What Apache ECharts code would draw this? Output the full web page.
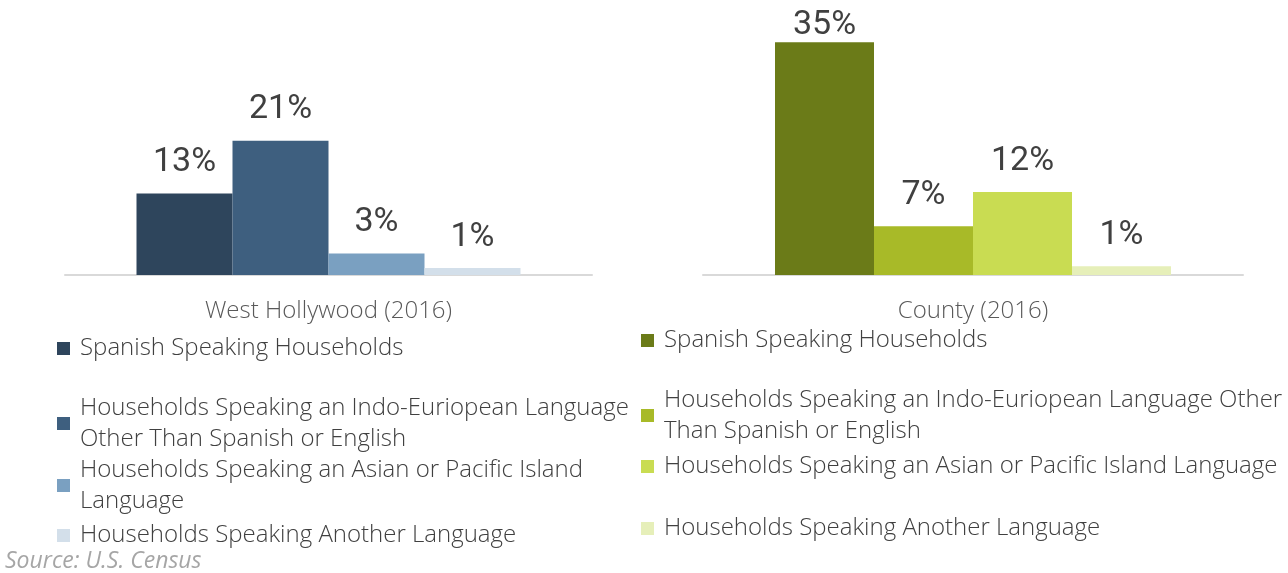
<!DOCTYPE html>
<html>
<head>
<meta charset="utf-8">
<script src="https://cdn.jsdelivr.net/npm/echarts@6/dist/echarts.min.js"></script>
<style>
  html, body { margin: 0; padding: 0; background: #fff; }
  .wrap { position: relative; width: 1288px; height: 573px; }
  #weho { position: absolute; left: 0; top: 0; width: 630px; height: 573px; }
  #county { position: absolute; left: 630px; top: 0; width: 658px; height: 573px; }
</style>
</head>
<body>
<div class="wrap">
  <div id="weho"></div>
  <div id="county"></div>
</div>
<script>
// legend names (typo kept as in source)
const langs = [
  'Spanish Speaking Households',
  'Households Speaking an Indo-Euriopean Language Other Than Spanish or English',
  'Households Speaking an Asian or Pacific Island Language',
  'Households Speaking Another Language'
];
const wehoCat = ['West Hollywood (2016)'];
const countyCat = ['County (2016)'];
// share of households, %
const weho = [12.8, 21.1, 3.4, 1.1];
const county = [34.8, 7.3, 12.4, 1.3];

const wehoColors = ['#2e455c', '#3e5f7f', '#7aa0c1', '#d3dfea'];
const countyColors = ['#6b7b18', '#a8ba28', '#c9dc52', '#e6efb9'];

const labelFont = "Roboto, sans-serif";
const textFont = "'Open Sans', sans-serif";

function buildOption(cat, values, colors, opts) {
  const top = Math.max(...values);
  return {
    textStyle: { fontFamily: textFont },
    title: opts.source ? {
      text: 'Source: U.S. Census',
      left: 0, top: 545,
      textStyle: { fontStyle: 'italic', fontWeight: 'normal', fontSize: 23, color: '#a6a6a6', fontFamily: textFont }
    } : undefined,
    // one legend per entry: every entry gets a two-line slot, symbol on the first line
    legend: langs.map((name, i) => ({
      orient: 'vertical',
      left: opts.legendLeft, top: opts.legendTops[i],
      padding: 0,
      icon: 'rect',
      itemWidth: 13, itemHeight: 13,
      selectedMode: false,
      data: [name],
      textStyle: {
        fontSize: 24, color: '#404040', fontWeight: 300,
        width: opts.legendWidth, overflow: 'break',
        lineHeight: 31, height: 31,
        padding: [0, 0, 0, 5]
      }
    })),
    grid: { left: opts.gridLeft, width: opts.gridWidth, top: opts.gridTop, bottom: 298 },
    xAxis: {
      type: 'category',
      data: cat,
      axisLine: { lineStyle: { color: '#d9d9d9', width: 2 } },
      axisTick: { show: false },
      axisLabel: { margin: 24, fontSize: 24, color: '#595959', fontWeight: 300 }
    },
    yAxis: { type: 'value', min: 0, max: opts.max, show: false },
    series: langs.map((name, i) => ({
      type: 'bar',
      name: name,
      data: [values[i]],
      barWidth: opts.barWidth,
      barGap: '0%',
      itemStyle: { color: colors[i] },
      label: {
        show: true,
        position: 'top',
        distance: values[i] === top && opts.clampTop ? 0 : 14,
        fontFamily: labelFont,
        fontSize: 34,
        color: '#404040',
        formatter: p => Math.round(p.value) + '%'
      }
    }))
  };
}

const wehoChart = echarts.init(document.getElementById('weho'));
wehoChart.setOption(buildOption(wehoCat, weho, wehoColors, {
  source: true, legendLeft: 57, legendTops: [333, 396, 458, 520], legendWidth: 566,
  gridLeft: 65, gridWidth: 527, gridTop: 116, max: 25, barWidth: 96
}));

const countyChart = echarts.init(document.getElementById('county'));
countyChart.setOption(buildOption(countyCat, county, countyColors, {
  source: false, legendLeft: 11, legendTops: [325, 388, 451, 513], legendWidth: 630,
  gridLeft: 73, gridWidth: 540, gridTop: 41, max: 35, barWidth: 99, clampTop: true
}));
</script>
</body>
</html>
